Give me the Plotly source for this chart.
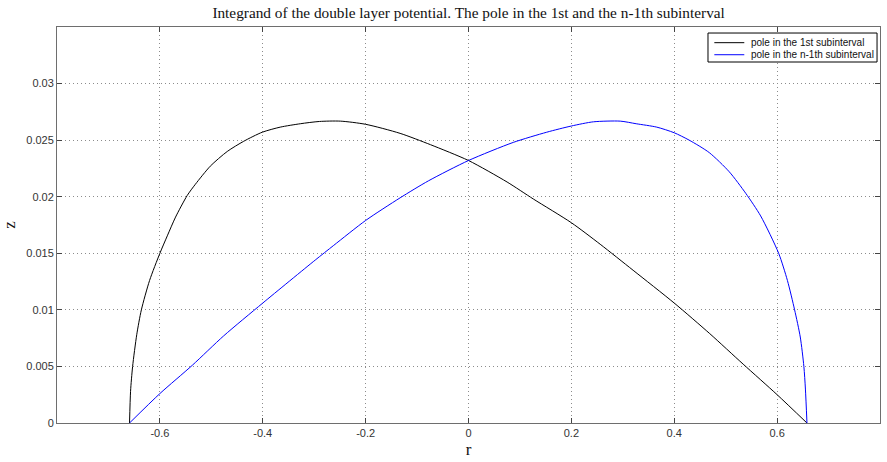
import plotly.graph_objects as go

# Integrand values along r for the pole in the 1st subinterval
r_first = [-0.659, -0.657, -0.653, -0.645, -0.636, -0.620, -0.600, -0.585, -0.5695,
           -0.547, -0.531, -0.502, -0.469, -0.437, -0.401, -0.366, -0.327, -0.290,
           -0.249, -0.200, -0.133, -0.074, 0.000, 0.075, 0.126, 0.200,
           0.256, 0.320, 0.400, 0.469, 0.534, 0.600, 0.658]
z_first = [0.0, 0.0028, 0.0050, 0.0078, 0.0100, 0.0126, 0.0150, 0.0166, 0.0182,
           0.0201, 0.0211, 0.0227, 0.0240, 0.0249, 0.0257, 0.02615, 0.02645, 0.02665,
           0.02668, 0.0264, 0.0256, 0.0246, 0.0232, 0.0213, 0.0198, 0.0177,
           0.0158, 0.0135, 0.0106, 0.0079, 0.0052, 0.0025, 0.0]

# Integrand values along r for the pole in the n-1th subinterval
r_last = [-0.659, -0.600, -0.537, -0.476, -0.400, -0.298, -0.262, -0.200, -0.133,
          -0.078, 0.000, 0.087, 0.152, 0.200, 0.243, 0.295, 0.326, 0.366, 0.400,
          0.429, 0.468, 0.507, 0.539, 0.568, 0.603, 0.620, 0.634, 0.645, 0.652,
          0.655, 0.658]
z_last = [0.0, 0.0026, 0.0051, 0.0077, 0.0106, 0.0144, 0.0157, 0.0179, 0.0199,
          0.0214, 0.0232, 0.0248, 0.0257, 0.02625, 0.02662, 0.02668, 0.02645, 0.02615,
          0.02565, 0.0250, 0.0239, 0.0222, 0.0203, 0.0183, 0.0150, 0.0126, 0.0100,
          0.0076, 0.0050, 0.0030, 0.0]

series_names = ["pole in the 1st subinterval", "pole in the n-1th subinterval"]
series_colors = ["#000000", "#0000ff"]

x_ticks = [-0.6, -0.4, -0.2, 0, 0.2, 0.4, 0.6, 0.8]
x_tick_text = ["-0.6", "-0.4", "-0.2", "0", "0.2", "0.4", "0.6", "0.8"]
y_ticks = [0, 0.005, 0.01, 0.015, 0.02, 0.025, 0.03]
y_tick_text = ["0", "0.005", "0.01", "0.015", "0.02", "0.025", "0.03"]

SERIF = "Liberation Serif, Times New Roman, serif"
SANS = "Liberation Sans, Arial, sans-serif"

fig = go.Figure()
for rs, zs, name, color in [(r_first, z_first, series_names[0], series_colors[0]),
                            (r_last, z_last, series_names[1], series_colors[1])]:
    fig.add_trace(go.Scatter(x=rs, y=zs, mode="lines", name=name, showlegend=False,
                             line=dict(color=color, width=1, shape="spline", smoothing=0.7)))

axis_common = dict(
    automargin=False,
    showgrid=True, gridcolor="#8c8c8c", griddash="1px,3px", gridwidth=1,
    zeroline=False, showline=True, linecolor="#6e6e6e", linewidth=1, mirror="ticks",
    ticks="inside", ticklen=5, tickcolor="#444444",
    tickfont=dict(family=SANS, size=11, color="#333333"),
)

# Boxed legend in the upper right corner of the axes
legend_x0, legend_x1 = 0.791, 0.9964
legend_y0, legend_y1 = 0.9116, 0.9848
entry_y = [0.9604, 0.930]
sample_x0, sample_x1, label_x = 0.7987, 0.8351, 0.8408

shapes = [dict(type="rect", xref="paper", yref="paper",
               x0=legend_x0, x1=legend_x1, y0=legend_y0, y1=legend_y1,
               line=dict(color="#000000", width=1), fillcolor="white", layer="above")]
annotations = []
for yy, name, color in zip(entry_y, series_names, series_colors):
    shapes.append(dict(type="line", xref="paper", yref="paper",
                       x0=sample_x0, x1=sample_x1, y0=yy, y1=yy,
                       line=dict(color=color, width=1), layer="above"))
    annotations.append(dict(text=name, xref="paper", yref="paper", x=label_x, y=yy,
                            xanchor="left", yanchor="middle", showarrow=False,
                            font=dict(family=SANS, size=10, color="#111111")))

fig.update_layout(
    width=887, height=462,
    margin=dict(l=57, r=7, t=27, b=39),
    paper_bgcolor="white", plot_bgcolor="white",
    title=dict(text="Integrand of the double layer potential. The pole in the 1st and the n-1th subinterval",
               x=0.5283, xanchor="center", y=0.972, yanchor="middle",
               font=dict(family=SERIF, size=15.3, color="#111111")),
    xaxis=dict(range=[-0.8, 0.8], tickvals=x_ticks, ticktext=x_tick_text,
               title=dict(text="r", standoff=4, font=dict(family=SERIF, size=17, color="#111111")),
               **axis_common),
    yaxis=dict(range=[0, 0.035], tickvals=y_ticks, ticktext=y_tick_text,
               title=dict(text="z", standoff=8, font=dict(family=SERIF, size=17, color="#111111")),
               **axis_common),
    shapes=shapes,
    annotations=annotations,
    showlegend=False,
)

fig.write_html("out.html")
